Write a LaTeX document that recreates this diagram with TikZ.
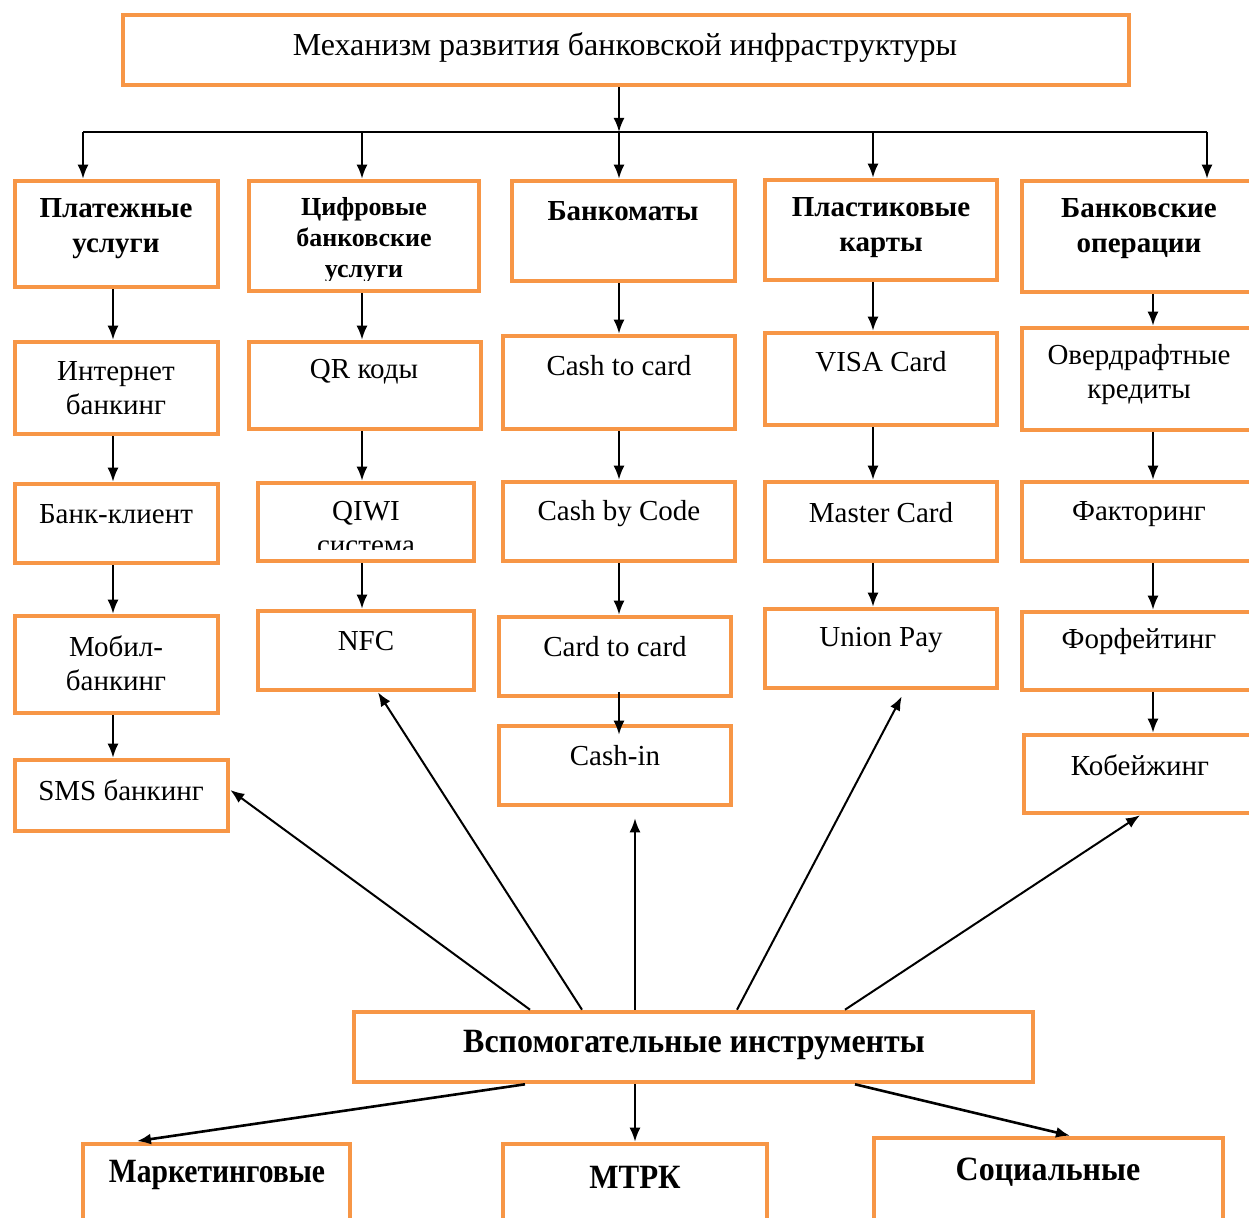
\documentclass[tikz,border=0pt]{standalone}
\usepackage{fontspec}
\setmainfont{Liberation Serif}
\usepackage{tikz}
\usetikzlibrary{arrows.meta}
\usetikzlibrary{calc}
\definecolor{boxorange}{HTML}{F79646}

\begin{document}
\begin{tikzpicture}[x=0.5pt, y=-0.5pt,
	box/.style={draw=boxorange, line width=2.3pt, inner sep=0pt, fill=white},
	txt/.style={align=center, inner sep=0pt, font=\fontsize{14.5}{17}\selectfont},
	hdr/.style={align=center, inner sep=0pt, font=\fontsize{14.5}{17.5}\selectfont\bfseries},
	auxt/.style={inner sep=0pt, font=\fontsize{17}{20}\selectfont\bfseries},
	arr/.style={-{Latex[length=7pt,width=5.5pt]}, line width=1pt}]
	
	\useasboundingbox (0,0) rectangle (1249,1218);
	
	\node[box, minimum width=503pt, minimum height=35pt] (mech) at (626,50) {};
	\node[txt, font=\fontsize{16}{19}\selectfont] (mech-t) at (625,48) {Механизм развития банковской инфраструктуры};
	
	% first row
	\node[box, minimum width=101.5pt, minimum height=53pt] (pay) at (116.5,234) {};
	\node[hdr] (pay-t) at (116,229) {Платежные\\услуги};
	\node[box, minimum width=115pt, minimum height=55pt] (dig) at (364,236) {};
	\begin{scope}
		\clip (dig.north west) rectangle ([yshift=6.5pt]dig.south east);
		\node[hdr, font=\fontsize{13}{15.5}\selectfont\bfseries] (dig-t) at (364,240) {Цифровые\\банковские\\услуги};
	\end{scope}
	\node[box, minimum width=111.5pt, minimum height=50pt] (atm) at (623.5,231) {};
	\node[hdr] (atm-t) at (623,211) {Банкоматы};
	\node[box, minimum width=116pt, minimum height=50pt] (plc) at (881,230) {};
	\node[hdr] (plc-t) at (881,228) {Пластиковые\\карты};
	\node[box, minimum width=118pt, minimum height=55.5pt] (ops) at (1140,236.5) {};
	\node[hdr] (ops-t) at (1139,229) {Банковские\\операции};
	
	\node[box, minimum width=101.5pt, minimum height=46pt] (inet) at (116.5,388) {};
	\node[txt] (inet-t) at (116,388) {Интернет\\банкинг};
	\node[box, minimum width=116pt, minimum height=43.5pt] (qr) at (365,385.5) {};
	\node[txt] (qr-t) at (364,372) {QR коды};
	\node[box, minimum width=116pt, minimum height=46.5pt] (ctc) at (619,382.5) {};
	\node[txt] (ctc-t) at (619,366) {Cash to card};
	\node[box, minimum width=116pt, minimum height=46pt] (visa) at (881,379) {};
	\node[txt] (visa-t) at (881,362) {VISA Card};
	\node[box, minimum width=118pt, minimum height=51pt] (ovd) at (1140,379) {};
	\node[txt] (ovd-t) at (1139,375) {Овердрафтные\\кредиты};
	
	\node[box, minimum width=101.5pt, minimum height=39.5pt] (bcl) at (116.5,523.5) {};
	\node[txt] (bcl-t) at (116,514) {Банк-клиент};
	\node[box, minimum width=108pt, minimum height=39pt] (qiwi) at (366,522) {};
	\begin{scope}
		\clip (qiwi.north west) rectangle ([yshift=7pt]qiwi.south east);
		\node[txt] (qiwi-t) at (366,528) {QIWI\\система};
	\end{scope}
	\node[box, minimum width=116pt, minimum height=39.5pt] (cbc) at (619,521.5) {};
	\node[txt] (cbc-t) at (619,514) {Cash by Code};
	\node[box, minimum width=116pt, minimum height=39.5pt] (mc) at (881,521.5) {};
	\node[txt] (mc-t) at (881,513) {Master Card};
	\node[box, minimum width=118pt, minimum height=39.5pt] (fact) at (1140,521.5) {};
	\node[txt] (fact-t) at (1139,514) {Факторинг};
	
	\node[box, minimum width=101.5pt, minimum height=48.5pt] (mob) at (116.5,664.5) {};
	\node[txt] (mob-t) at (116,663) {Мобил-\\банкинг};
	\node[box, minimum width=108pt, minimum height=39.5pt] (nfc) at (366,650.5) {};
	\node[txt] (nfc-t) at (366,641) {NFC};
	\node[box, minimum width=116pt, minimum height=39.5pt] (crc) at (615,656.5) {};
	\node[txt] (crc-t) at (615,647) {Card to card};
	\node[box, minimum width=116pt, minimum height=39.5pt] (up) at (881,648.5) {};
	\node[txt] (up-t) at (881,640) {Union Pay};
	\node[box, minimum width=118pt, minimum height=39pt] (forf) at (1140,651) {};
	\node[txt] (forf-t) at (1139,642) {Форфейтинг};
	
	\node[box, minimum width=106.5pt, minimum height=35.5pt] (sms) at (121.5,795.5) {};
	\node[txt] (sms-t) at (121,790) {SMS банкинг};
	\node[box, minimum width=116pt, minimum height=39.5pt] (cin) at (615,765.5) {};
	\node[txt] (cin-t) at (615,756) {Cash-in};
	\node[box, minimum width=118pt, minimum height=39pt] (cob) at (1142,774) {};
	\node[txt] (cob-t) at (1140,765) {Кобейжинг};
	
	% bottom part
	\node[box, minimum width=339.5pt, minimum height=35pt] (aux) at (693.5,1047) {};
	\node[auxt] (aux-t) at (694,1045) {\scalebox{0.94}[1]{Вспомогательные инструменты}};
	\node[box, minimum width=133.5pt, minimum height=48pt] (mkt) at (216.5,1192) {};
	\node[auxt] (mkt-t) at (217,1175) {\scalebox{0.87}[1]{Маркетинговые}};
	\node[box, minimum width=132pt, minimum height=48pt] (mtrk) at (635,1192) {};
	\node[auxt] (mtrk-t) at (635,1177) {\scalebox{0.91}[1]{МТРК}};
	\node[box, minimum width=174.5pt, minimum height=51pt] (soc) at (1048.5,1189) {};
	\node[auxt] (soc-t) at (1048,1172) {\scalebox{0.94}[1]{Социальные}};
	
	\coordinate (b1) at (83,132);
	\coordinate (b2) at (362,132);
	\coordinate (b3) at (619,132);
	\coordinate (b4) at (873,132);
	\coordinate (b5) at (1207,132);
	\coordinate (k1) at (113,0);
	\coordinate (k2) at (362,0);
	\coordinate (k3) at (619,0);
	\coordinate (k4) at (873,0);
	\coordinate (k5) at (1153,0);
	
	\draw[arr] (mech.south -| b3) -- (b3);
	\draw[line width=1pt] (b1) -- (b5);
	\foreach \b/\n in {b1/pay, b2/dig, b3/atm, b4/plc, b5/ops}
		\draw[arr] (\b) -- (\b |- \n.north);
	
	\foreach \a/\n/\k in {pay/inet/k1, inet/bcl/k1, bcl/mob/k1, mob/sms/k1,
		dig/qr/k2, qr/qiwi/k2, qiwi/nfc/k2,
		atm/ctc/k3, ctc/cbc/k3, cbc/crc/k3,
		plc/visa/k4, visa/mc/k4, mc/up/k4,
		ops/ovd/k5, ovd/fact/k5, fact/forf/k5, forf/cob/k5}
		\draw[arr] (\a.south -| \k) -- (\n.north -| \k);
	\draw[arr, shorten <=-3pt, shorten >=-5.5pt] (crc.south -| k3) -- (cin.north -| k3);
	
	\draw[arr] ([xshift=-81.75pt]aux.north) -- ([yshift=2.75pt]sms.east);
	\draw[arr] ([xshift=-55.75pt]aux.north) -- ([xshift=6pt]nfc.south);
	\draw[arr, shorten >=5.5pt] ([xshift=-29.25pt]aux.north) -- ([xshift=10pt]cin.south);
	\draw[arr, shorten >=3.5pt] ([xshift=21.75pt]aux.north) -- ([xshift=12pt]up.south);
	\draw[arr] ([xshift=75.75pt]aux.north) -- ([xshift=-1pt]cob.south);
	
	\draw[arr, line width=1.3pt, shorten >=2pt] ([xshift=-84.25pt]aux.south) -- ([xshift=-41.75pt]mkt.north);
	\draw[arr] ([xshift=-29.25pt]aux.south) -- (mtrk.north);
	\draw[arr, line width=1.3pt] ([xshift=80.75pt]aux.south) -- ([xshift=10.75pt]soc.north);
\end{tikzpicture}
\end{document}
